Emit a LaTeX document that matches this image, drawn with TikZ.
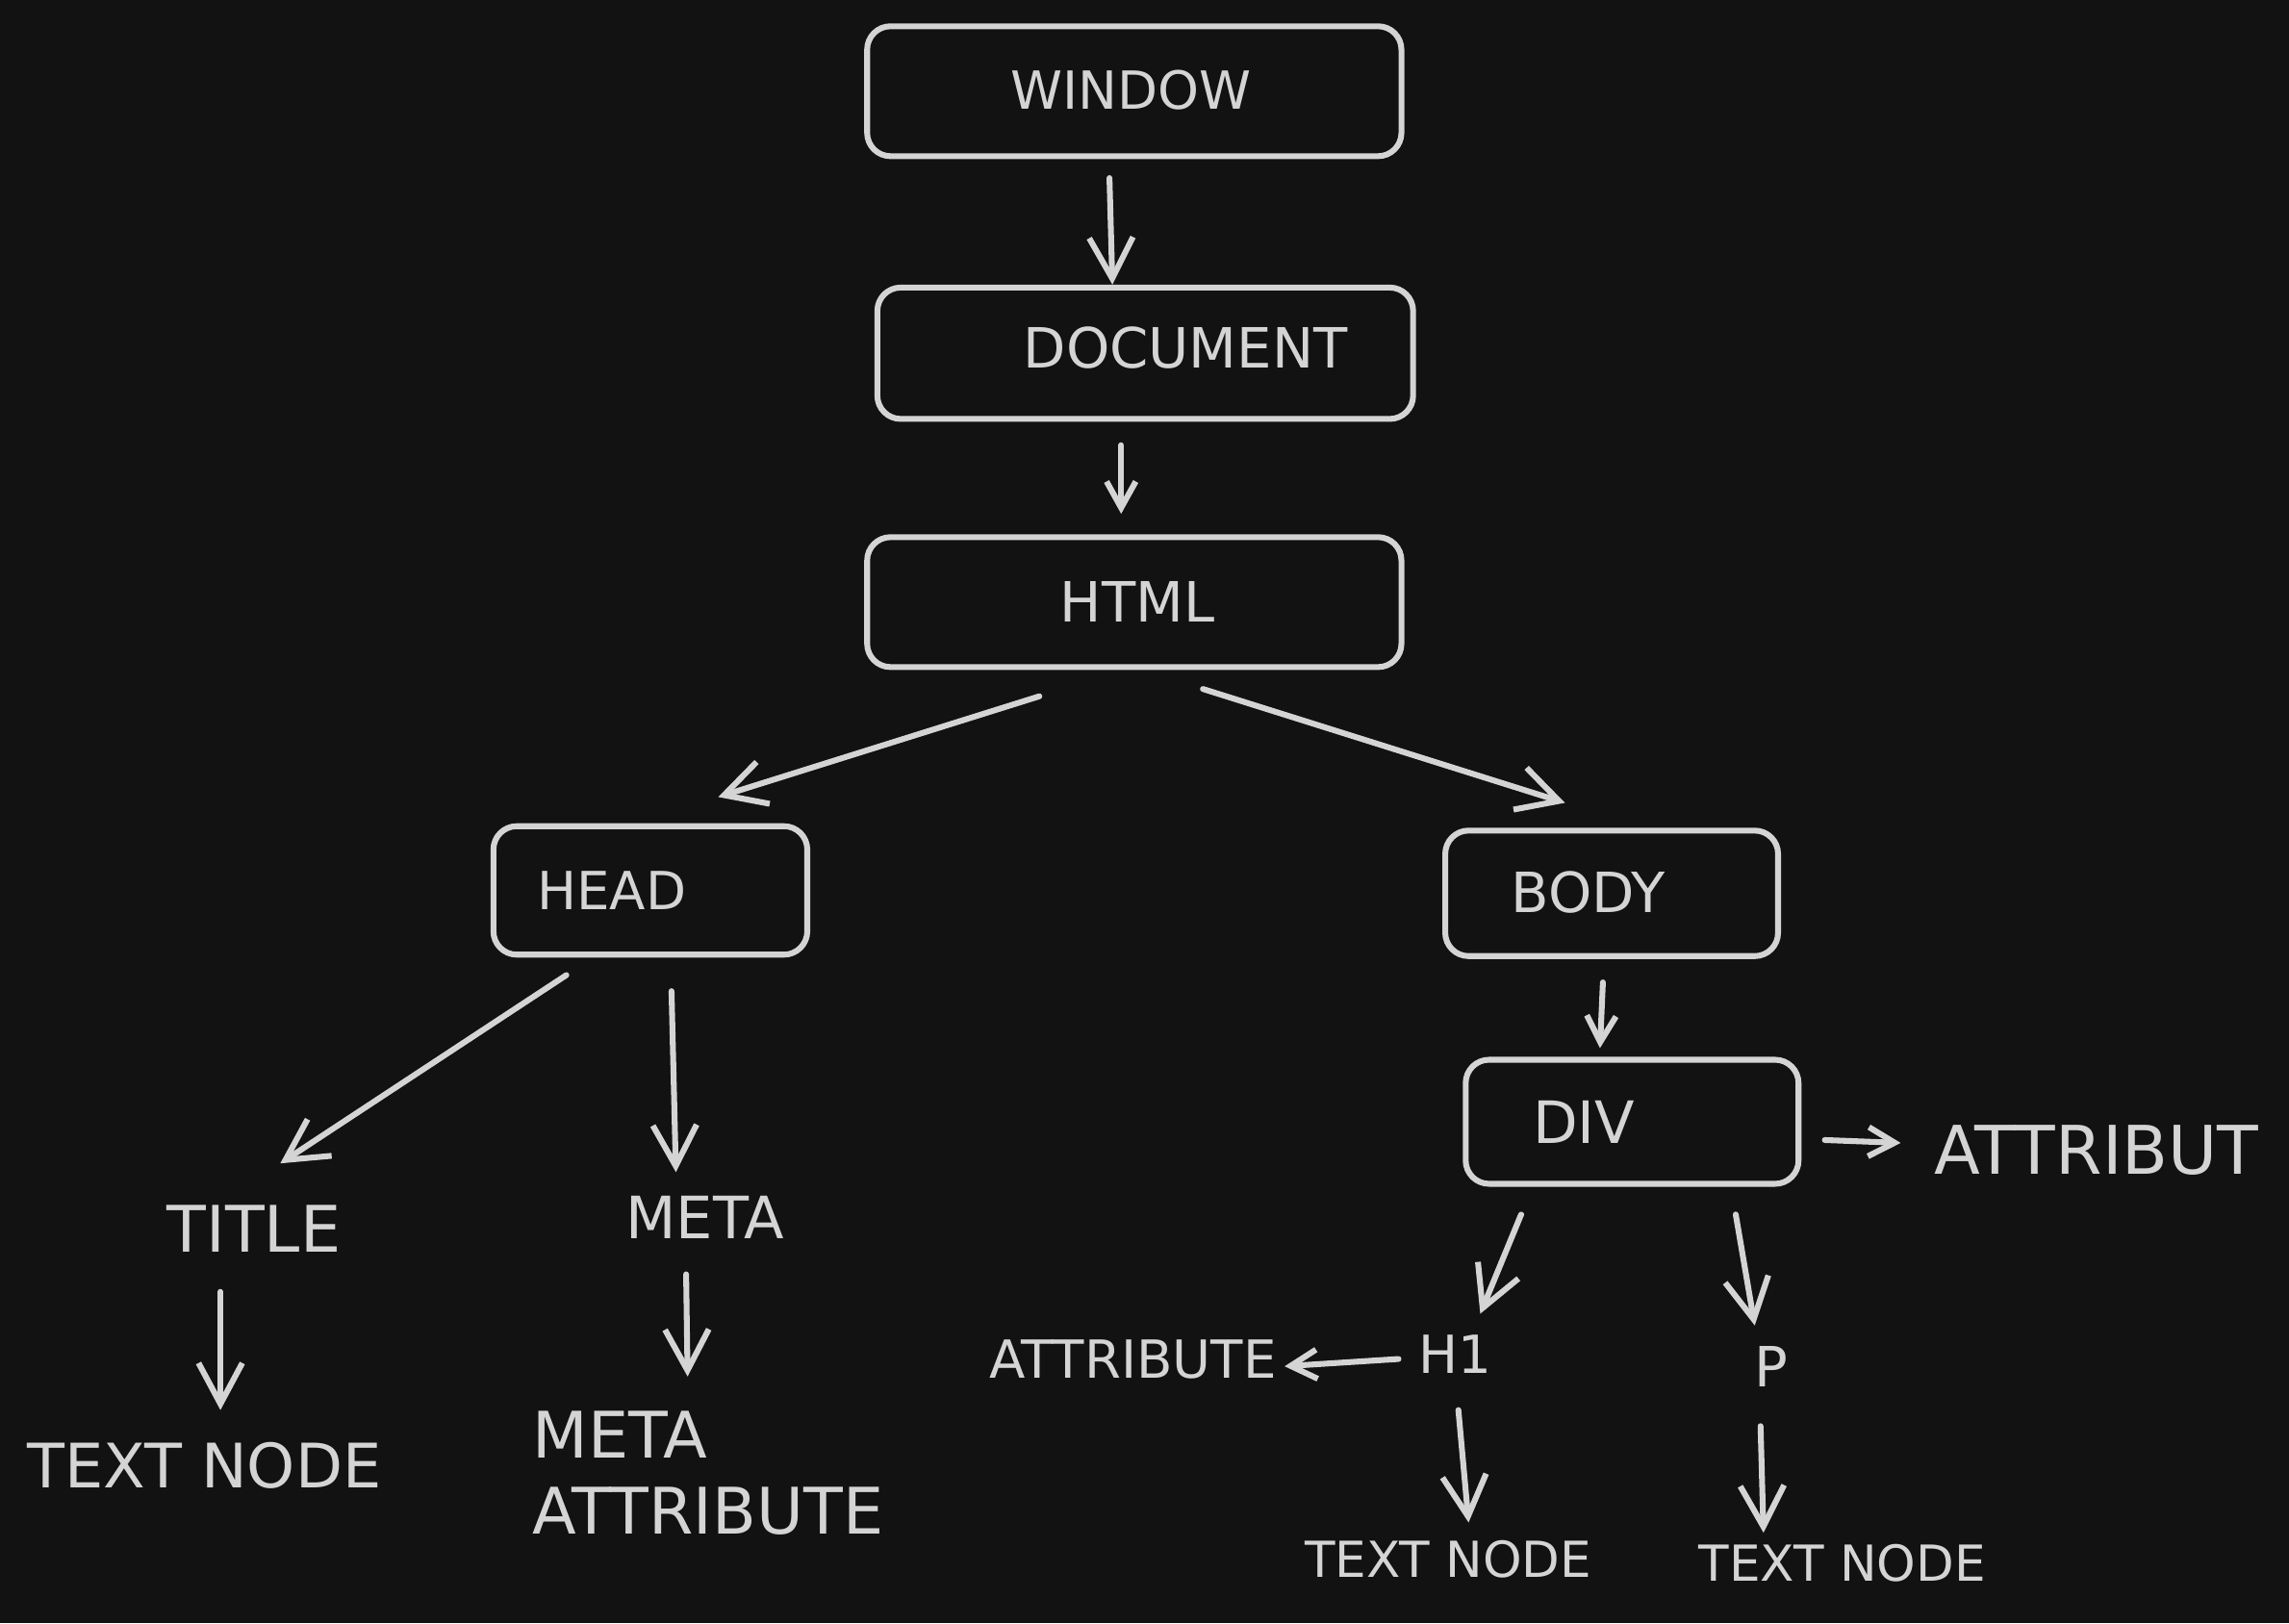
\documentclass[tikz,border=0pt]{standalone}
\usepackage{fontspec}
\setmainfont{DejaVu Sans}
\usetikzlibrary{arrows.meta,calc}
\definecolor{bg}{HTML}{121212}
\definecolor{fg}{HTML}{D4D4D4}
\tikzset{
 box/.style={draw=fg, line width=2pt, rounded corners=8pt, inner sep=0pt},
 lbl/.style={text=fg, inner sep=0pt},
 arr/.style={draw=fg, line width=2pt, line cap=round, -{Straight Barb[length=14pt,width=15pt,line width=2pt]}},
 arrs/.style={draw=fg, line width=2pt, line cap=round, -{Straight Barb[length=9pt,width=10pt,line width=2pt]}},
}
\newcommand{\fs}[1]{\fontsize{#1}{#1}\selectfont}
\begin{document}
\begin{tikzpicture}[x=0.5pt,y=-0.5pt]
\fill[bg] (0,0) rectangle (1568,1112);
\useasboundingbox (0,0) rectangle (1568,1112);
% boxes
\node[box, minimum width=183pt, minimum height=44.5pt] (win) at (777,62.5) {};
\node[box, minimum width=183.5pt, minimum height=45pt] (doc) at (784.5,242) {};
\node[box, minimum width=183pt, minimum height=44.5pt] (html) at (777,412.5) {};
\node[box, minimum width=107.5pt, minimum height=44pt] (head) at (445.5,610) {};
\node[box, minimum width=114pt, minimum height=43pt] (body) at (1104,612) {};
\node[box, minimum width=114pt, minimum height=42.5pt] (div) at (1118,768.5) {};
% box labels
\node[lbl, font=\fs{18}] (twin) at (775,62) {WINDOW};
\node[lbl, font=\fs{19}] (tdoc) at (812,238) {DOCUMENT};
\node[lbl, font=\fs{19}] (thtml) at (779,412) {HTML};
\node[lbl, font=\fs{18}] (thead) at (419,610) {HEAD};
\node[lbl, font=\fs{19}] (tbody) at (1088,611) {BODY};
\node[lbl, font=\fs{20}] (tdiv) at (1085,769) {DIV};
% free labels
\node[lbl, font=\fs{22}] (title) at (174,842) {TITLE};
\node[lbl, font=\fs{20}] (meta) at (483,834) {META};
\node[lbl, font=\fs{21}] (tn1) at (140,1004) {TEXT NODE};
\node[lbl, font=\fs{22}, align=left] (metaattr) at (485,1009) {META\\[4pt]ATTRIBUTE};
\node[lbl, font=\fs{23}] (attrib) at (1436,788) {ATTRIBUT};
\node[lbl, font=\fs{18}] (h1) at (997,928) {H1};
\node[lbl, font=\fs{19}] (p) at (1213,936) {P};
\node[lbl, font=\fs{18}] (attre) at (776,931) {ATTRIBUTE};
\node[lbl, font=\fs{17}] (tn2) at (992,1068) {TEXT NODE};
\node[lbl, font=\fs{17}] (tn3) at (1262,1071) {TEXT NODE};
% connectors
\draw[arr] ($(win)+(-17,59.5)$) -- ($(doc)+(-22.5,-47)$);
\draw[arrs] ($(doc)+(-16.5,63)$) -- ($(html)+(-9,-60.5)$);
\draw[arr] ($(html)+(-65,64.5)$) -- ($(head)+(46.5,-64)$);
\draw[arr] ($(html)+(47,59.5)$) -- ($(body)+(-32,-62)$);
\draw[arr] ($(head)+(-57.5,58)$) -- ($(title)+(18,-45)$);
\draw[arr] ($(head)+(14.5,69)$) -- ($(meta)+(-20,-31)$);
\draw[arr] ($(title)+(-23,43)$) -- ($(tn1)+(11,-38)$);
\draw[arr] ($(meta)+(-13,39)$) -- ($(metaattr)+(-14,-66)$);
\draw[arrs] ($(body)+(-6,61)$) -- ($(div)+(-22,-50.5)$);
\draw[arrs] ($(div)+(132,12.5)$) -- ($(attrib)+(-134,-5)$);
\draw[arr] ($(div)+(-76,63.5)$) -- ($(h1)+(17,-28)$);
\draw[arr] ($(div)+(71,63.5)$) -- ($(p)+(-11,-28)$);
\draw[arrs] ($(h1)+(-39,3)$) -- ($(attre)+(104,5)$);
\draw[arr] ($(h1)+(2,38)$) -- ($(tn2)+(14,-25)$);
\draw[arr] ($(p)+(-7,41)$) -- ($(tn3)+(-54,-21)$);
\end{tikzpicture}
\end{document}
